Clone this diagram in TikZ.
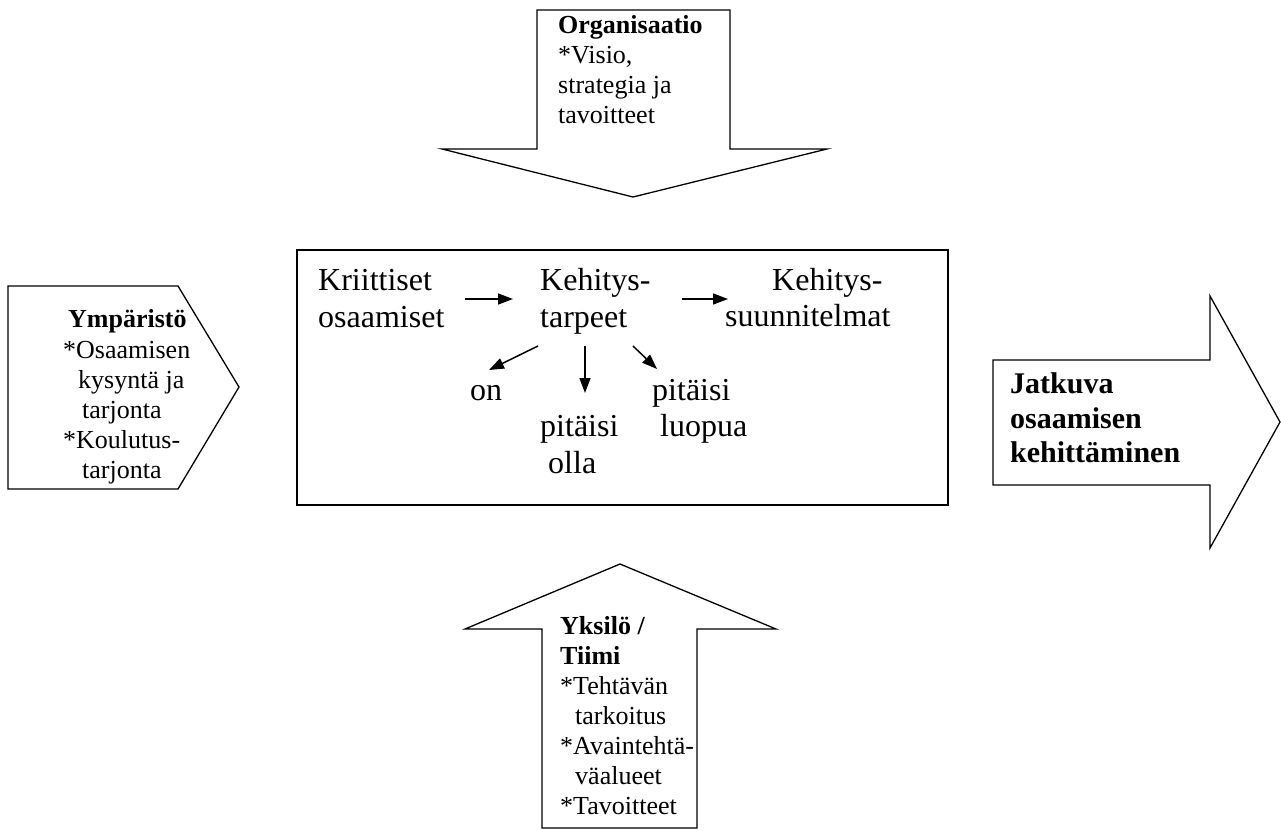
\documentclass[tikz,border=0pt]{standalone}
\usepackage{fontspec}
\setmainfont{Liberation Serif}
\usetikzlibrary{arrows.meta}
\begin{document}
\begin{tikzpicture}[x=1pt,y=-1pt,
  outline/.style={draw=black,line width=1.3pt,line join=miter,fill=white},
  frame/.style={draw=black,line width=2pt},
  txtsmall/.style={font=\fontsize{26}{30}\selectfont,inner sep=0pt,anchor=base west},
  txtbig/.style={font=\fontsize{32}{36}\selectfont,inner sep=0pt,anchor=base west},
  txthead/.style={font=\bfseries\fontsize{30}{35}\selectfont,inner sep=0pt,anchor=base west},
  flow/.style={line width=1.5pt,-{Triangle[length=15pt,width=11pt]}}
]
\useasboundingbox (0,0) rectangle (1281,830);

% Organisaatio: block arrow pointing down
\draw[outline] (537,10) -- (730,10) -- (730,149) -- (827,149) -- (633,197)
  -- (442,149) -- (537,149) -- cycle;
\node[txtsmall,font=\bfseries\fontsize{26}{30}\selectfont] (org1) at (558,33) {Organisaatio};
\node[txtsmall] (org2) at (558,63) {*Visio,};
\node[txtsmall] (org3) at (558,93) {strategia ja};
\node[txtsmall] (org4) at (558,123) {tavoitteet};

% Ympäristö: pentagon pointing right
\draw[outline] (8,286) -- (178,286) -- (239,387) -- (178,489) -- (8,489) -- cycle;
\node[txtsmall,font=\bfseries\fontsize{26}{30}\selectfont] (ymp1) at (68,327) {Ympäristö};
\node[txtsmall] (ymp2) at (63,358) {*Osaamisen};
\node[txtsmall] (ymp3) at (78,388) {kysyntä ja};
\node[txtsmall] (ymp4) at (82,418) {tarjonta};
\node[txtsmall] (ymp5) at (63,448) {*Koulutus-};
\node[txtsmall] (ymp6) at (82,478) {tarjonta};

% Central frame
\draw[frame] (297,250) rectangle (948,505);
\node[txtbig] (kr1) at (318,290) {Kriittiset};
\node[txtbig] (kr2) at (318,327) {osaamiset};
\node[txtbig] (kt1) at (540,290) {Kehitys-};
\node[txtbig] (kt2) at (540,327) {tarpeet};
\node[txtbig] (ks1) at (772,290) {Kehitys-};
\node[txtbig] (ks2) at (725,326) {suunnitelmat};
\node[txtbig] (on) at (470,400) {on};
\node[txtbig] (po1) at (540,436) {pitäisi};
\node[txtbig] (po2) at (548,473) {olla};
\node[txtbig] (pl1) at (652,400) {pitäisi};
\node[txtbig] (pl2) at (660,436) {luopua};

\coordinate (a1s) at (465,299);
\coordinate (a1e) at (513,299);
\coordinate (a2s) at (682,299);
\coordinate (a2e) at (728,299);
\coordinate (d1s) at (538,346);
\coordinate (d1e) at (489,370);
\coordinate (d2s) at (585,346);
\coordinate (d2e) at (585,393);
\coordinate (d3s) at (633,346);
\coordinate (d3e) at (657,369);
\draw[flow] (a1s) -- (a1e);
\draw[flow] (a2s) -- (a2e);
\draw[flow] (d1s) -- (d1e);
\draw[flow] (d2s) -- (d2e);
\draw[flow] (d3s) -- (d3e);

% Yksilö / Tiimi: block arrow pointing up
\draw[outline] (620,564) -- (776,629) -- (697,629) -- (697,828) -- (542,828)
  -- (542,629) -- (465,629) -- cycle;
\node[txtsmall,font=\bfseries\fontsize{26}{30}\selectfont] (yk1) at (560,634) {Yksilö /};
\node[txtsmall,font=\bfseries\fontsize{26}{30}\selectfont] (yk2) at (560,664) {Tiimi};
\node[txtsmall] (yk3) at (560,694) {*Tehtävän};
\node[txtsmall] (yk4) at (575,724) {tarkoitus};
\node[txtsmall] (yk5) at (560,754) {*Avaintehtä-};
\node[txtsmall] (yk6) at (575,784) {väalueet};
\node[txtsmall] (yk7) at (560,814) {*Tavoitteet};

% Result: block arrow pointing right
\draw[outline] (993,360) -- (1210,360) -- (1210,296) -- (1280,422) -- (1210,548)
  -- (1210,485) -- (993,485) -- cycle;
\node[txthead] (jk1) at (1010,393) {Jatkuva};
\node[txthead] (jk2) at (1010,428) {osaamisen};
\node[txthead] (jk3) at (1010,462) {kehittäminen};
\end{tikzpicture}
\end{document}
